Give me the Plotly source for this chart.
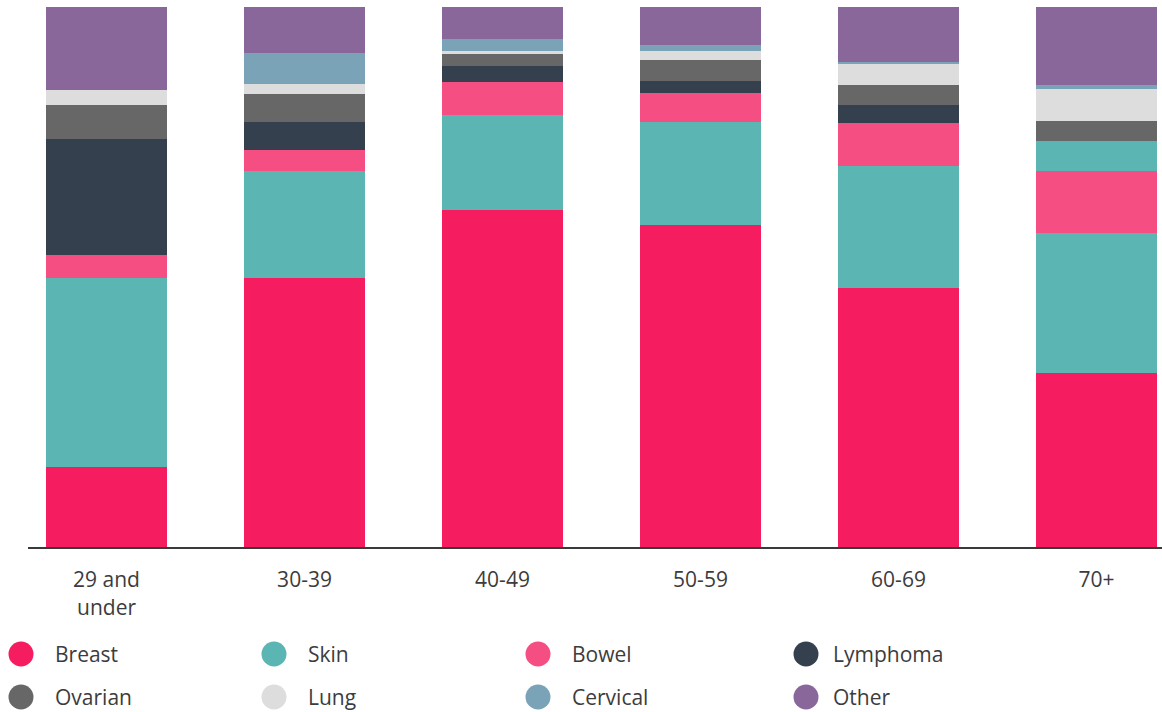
import plotly.graph_objects as go

# ---- data (percent of each age group) ----
age_groups = ["29 and<br>under", "30-39", "40-49", "50-59", "60-69", "70+"]
series_names = ["Breast", "Skin", "Bowel", "Lymphoma", "Ovarian", "Lung", "Cervical", "Other"]

breast   = [14.8, 49.8, 62.4, 59.6, 48.0, 32.2]
skin     = [35.0, 19.8, 17.6, 19.1, 22.6, 25.9]
bowel    = [4.3, 3.9, 6.1, 5.4, 8.0, 11.5]
lymphoma = [21.5, 5.2, 3.0, 2.2, 3.3, 5.6]
ovarian  = [6.3, 5.2, 2.2, 3.9, 3.7, 3.7]
lung     = [2.8, 1.9, 0.6, 1.7, 3.9, 5.9]
cervical = [0.0, 5.6, 2.2, 1.1, 0.4, 0.7]
other    = [15.3, 8.6, 5.9, 7.0, 10.1, 14.5]

series_values = [breast, skin, bowel, lymphoma, ovarian, lung, cervical, other]

# ---- style ----
colors = {
    "Breast": "#F61C60",
    "Skin": "#5BB5B3",
    "Bowel": "#F54E82",
    "Lymphoma": "#35404F",
    "Ovarian": "#676767",
    "Lung": "#DDDDDD",
    "Cervical": "#7BA3B8",
    "Other": "#8A679A",
}
FONT = "Open Sans"
TEXT_COLOR = "#3c3c3c"
FONT_SIZE = 21

W, H = 1162, 712
ML, MR, MT, MB = 28, 0, 7, 165
PW, PH = W - ML - MR, H - MT - MB

fig = go.Figure()
for name, vals in zip(series_names, series_values):
    col = colors[name]
    if name == "Lymphoma":
        # the reference shows this segment of the last bar drawn in teal
        col = [colors[name]] * (len(age_groups) - 1) + [colors["Skin"]]
    fig.add_trace(go.Bar(
        x=age_groups, y=vals, name=name,
        marker=dict(color=col, line=dict(width=0)),
        width=0.611, showlegend=False,
        hovertemplate="%{x}: %{y}%<extra>" + name + "</extra>",
    ))

# ---- custom legend (circles + labels) ----
col_marker_px = [21, 274, 538, 806]
col_text_px = [53, 306, 570, 831]
row_px = [654, 697]

def px_to_paper_x(px):
    return (px - ML) / PW

def px_to_paper_y(py):
    return (MT + PH - py) / PH

shapes = []
annotations = []
for i, name in enumerate(series_names):
    r, c = divmod(i, 4)
    shapes.append(dict(
        type="circle", xref="paper", yref="paper",
        xsizemode="pixel", ysizemode="pixel",
        xanchor=px_to_paper_x(col_marker_px[c]),
        yanchor=px_to_paper_y(row_px[r]),
        x0=-12.5, x1=12.5, y0=-12.5, y1=12.5,
        fillcolor=colors[name], line=dict(width=0),
    ))
    annotations.append(dict(
        text=name, xref="paper", yref="paper",
        x=px_to_paper_x(col_text_px[c]), y=px_to_paper_y(row_px[r]),
        xanchor="left", yanchor="middle", showarrow=False,
        font=dict(family=FONT, size=FONT_SIZE, color=TEXT_COLOR),
    ))

fig.update_layout(
    width=W, height=H,
    margin=dict(l=ML, r=MR, t=MT, b=MB),
    barmode="stack",
    plot_bgcolor="white", paper_bgcolor="white",
    font=dict(family=FONT, size=FONT_SIZE, color=TEXT_COLOR),
    shapes=shapes, annotations=annotations,
    showlegend=False,
    xaxis=dict(
        type="category",
        range=[-0.3965, 5.3308],
        showline=True, linecolor="#3a3a3a", linewidth=2,
        ticks="", showgrid=False, zeroline=False,
        tickfont=dict(family=FONT, size=FONT_SIZE, color=TEXT_COLOR),
        ticklabelstandoff=13,
    ),
    yaxis=dict(
        range=[0, 100], visible=False, showgrid=False, zeroline=False,
    ),
)

fig.write_html("out.html")
